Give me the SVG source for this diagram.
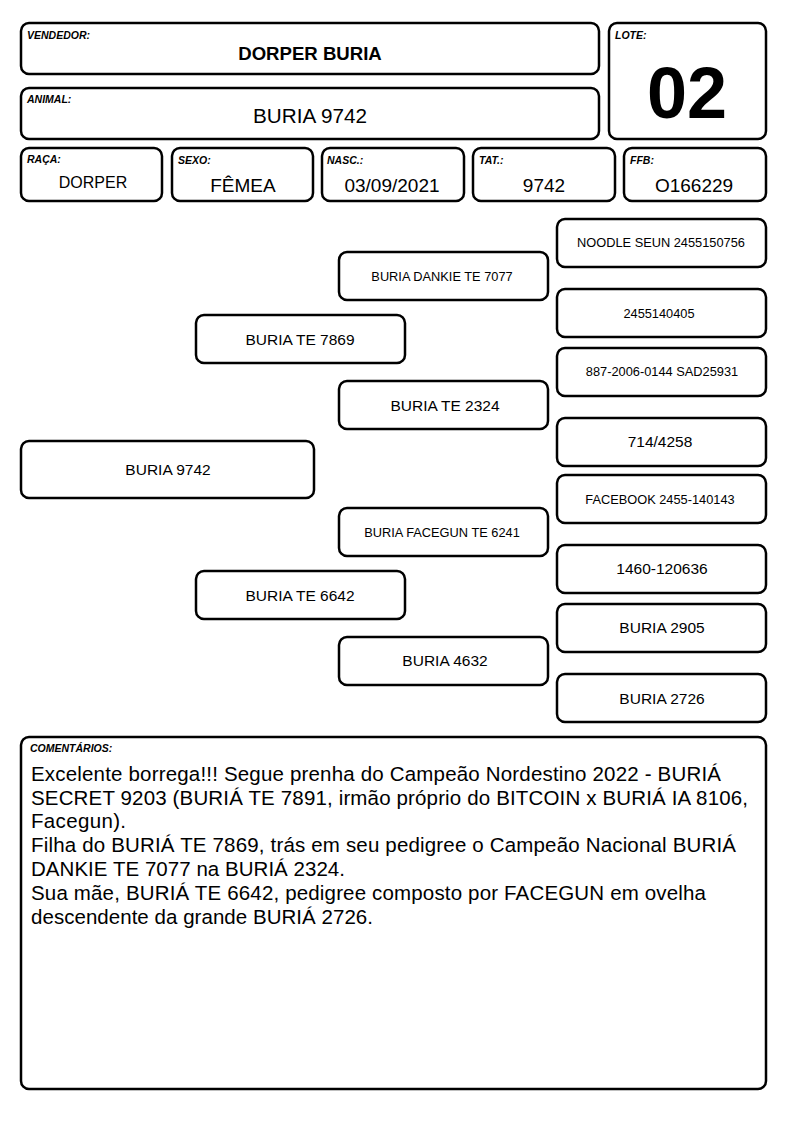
<svg xmlns="http://www.w3.org/2000/svg" width="794" height="1123" viewBox="0 0 794 1123">
<style>
.b{fill:#fff;stroke:#000;stroke-width:2.5}
.lab{font-family:"Liberation Sans",Arial,sans-serif;font-size:10.5px;font-weight:bold;font-style:italic;fill:#000}
.t{font-family:"Liberation Sans",Arial,sans-serif;fill:#000;text-anchor:middle}
.s{font-size:12.8px}
.m{font-size:15.5px}
.c{font-family:"Liberation Sans",Arial,sans-serif;font-size:20.5px;fill:#000}
</style>
<rect width="794" height="1123" fill="#fff"/>
<g id="vendedor"><rect class="b" x="21" y="23" width="578" height="51" rx="8"/><text class="lab" x="27" y="39">VENDEDOR:</text><text class="t" x="310" y="60" style="font-size:18.6px;font-weight:bold">DORPER BURIA</text></g>
<g id="lote"><rect class="b" x="609" y="23" width="157" height="116" rx="8"/><text class="lab" x="615" y="39">LOTE:</text><text class="t" x="687" y="118" style="font-size:72px;font-weight:bold">02</text></g>
<g id="animal"><rect class="b" x="21" y="88" width="578" height="51" rx="8"/><text class="lab" x="27" y="103">ANIMAL:</text><text class="t" x="310" y="123" style="font-size:20.7px">BURIA 9742</text></g>
<g id="raca"><rect class="b" x="21" y="148" width="141" height="53" rx="8"/><text class="lab" x="27" y="163">RAÇA:</text><text class="t" x="93" y="188" style="font-size:16px">DORPER</text></g>
<g id="sexo"><rect class="b" x="172" y="148" width="141" height="53" rx="8"/><text class="lab" x="178" y="164">SEXO:</text><text class="t" x="243" y="192" style="font-size:19px">FÊMEA</text></g>
<g id="nasc"><rect class="b" x="322" y="148" width="142" height="53" rx="8"/><text class="lab" x="327" y="164">NASC.:</text><text class="t" x="392" y="192" style="font-size:19px">03/09/2021</text></g>
<g id="tat"><rect class="b" x="473" y="148" width="142" height="53" rx="8"/><text class="lab" x="479" y="164">TAT.:</text><text class="t" x="544" y="192" style="font-size:19px">9742</text></g>
<g id="ffb"><rect class="b" x="624" y="148" width="142" height="53" rx="8"/><text class="lab" x="630" y="164">FFB:</text><text class="t" x="694" y="192" style="font-size:19px">O166229</text></g>
<g id="connectors"></g>
<g id="p0"><rect class="b" x="21" y="441" width="293" height="57" rx="8"/><text class="t m" x="168" y="475">BURIA 9742</text></g>
<g id="p1"><rect class="b" x="196" y="315" width="209" height="48" rx="8"/><text class="t m" x="300" y="345">BURIA TE 7869</text></g>
<g id="p2"><rect class="b" x="196" y="571" width="209" height="48" rx="8"/><text class="t m" x="300" y="601">BURIA TE 6642</text></g>
<g id="p3"><rect class="b" x="339" y="252" width="209" height="48" rx="8"/><text class="t s" x="442" y="281">BURIA DANKIE TE 7077</text></g>
<g id="p4"><rect class="b" x="339" y="381" width="209" height="48" rx="8"/><text class="t m" x="445" y="411">BURIA TE 2324</text></g>
<g id="p5"><rect class="b" x="339" y="508" width="209" height="48" rx="8"/><text class="t s" x="442" y="537">BURIA FACEGUN TE 6241</text></g>
<g id="p6"><rect class="b" x="339" y="637" width="209" height="48" rx="8"/><text class="t m" x="445" y="666">BURIA 4632</text></g>
<g id="p7"><rect class="b" x="557" y="219" width="209" height="48" rx="8"/><text class="t s" x="661" y="247">NOODLE SEUN 2455150756</text></g>
<g id="p8"><rect class="b" x="557" y="289" width="209" height="48" rx="8"/><text class="t s" x="659" y="318">2455140405</text></g>
<g id="p9"><rect class="b" x="557" y="348" width="209" height="48" rx="8"/><text class="t s" x="662" y="376">887-2006-0144 SAD25931</text></g>
<g id="p10"><rect class="b" x="557" y="418" width="209" height="48" rx="8"/><text class="t m" x="660" y="447">714/4258</text></g>
<g id="p11"><rect class="b" x="557" y="475" width="209" height="48" rx="8"/><text class="t s" x="660" y="504">FACEBOOK 2455-140143</text></g>
<g id="p12"><rect class="b" x="557" y="545" width="209" height="48" rx="8"/><text class="t m" x="662" y="574">1460-120636</text></g>
<g id="p13"><rect class="b" x="557" y="604" width="209" height="48" rx="8"/><text class="t m" x="662" y="633">BURIA 2905</text></g>
<g id="p14"><rect class="b" x="557" y="674" width="209" height="48" rx="8"/><text class="t m" x="662" y="704">BURIA 2726</text></g>
<g id="comentarios"><rect class="b" x="21" y="737" width="745" height="352" rx="8"/><text class="lab" x="30" y="752">COMENTÁRIOS:</text>
<text class="c" x="31" y="781" textLength="690" lengthAdjust="spacing">Excelente borrega!!! Segue prenha do Campeão Nordestino 2022 - BURIÁ</text>
<text class="c" x="31" y="805" textLength="717" lengthAdjust="spacing">SECRET 9203 (BURIÁ TE 7891, irmão próprio do BITCOIN x BURIÁ IA 8106,</text>
<text class="c" x="31" y="828" textLength="95" lengthAdjust="spacing">Facegun).</text>
<text class="c" x="31" y="852" textLength="705" lengthAdjust="spacing">Filha do BURIÁ TE 7869, trás em seu pedigree o Campeão Nacional BURIÁ</text>
<text class="c" x="31" y="876" textLength="314" lengthAdjust="spacing">DANKIE TE 7077 na BURIÁ 2324.</text>
<text class="c" x="31" y="900" textLength="675" lengthAdjust="spacing">Sua mãe, BURIÁ TE 6642, pedigree composto por FACEGUN em ovelha</text>
<text class="c" x="31" y="924" textLength="342" lengthAdjust="spacing">descendente da grande BURIÁ 2726.</text>
</g>
</svg>
